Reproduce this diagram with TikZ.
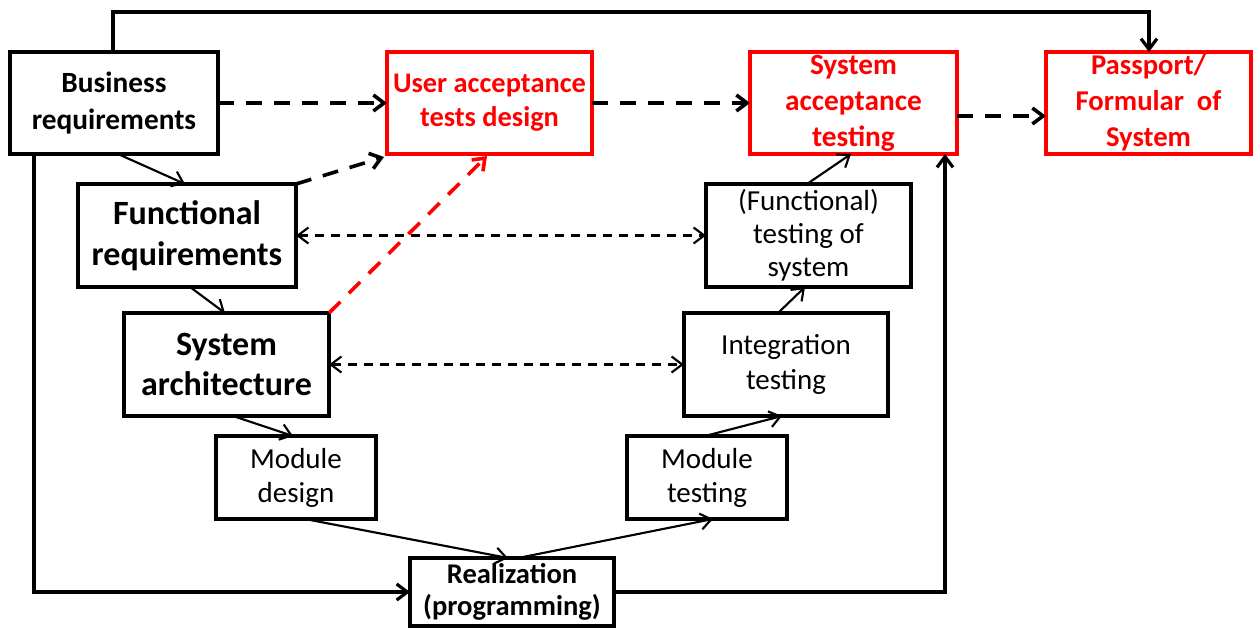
\documentclass[tikz,border=0pt]{standalone}
\usepackage{fontspec}
\setmainfont{Carlito}
\usetikzlibrary{arrows.meta,calc}

\begin{document}
\begin{tikzpicture}[x=0.75pt,y=-0.75pt,
  >={Straight Barb[length=8pt,width=12pt]},
  box/.style={draw=black, line width=2.4pt, align=center, inner sep=0pt, outer sep=0pt, text=black},
  redbox/.style={box, draw=red, text=red},
  wh/.style 2 args={minimum width=#1*0.75pt, minimum height=#2*0.75pt},
  fbig/.style={font=\fontsize{25.5}{30.5}\selectfont\bfseries},
  fbold/.style={font=\fontsize{22}{27.5}\selectfont\bfseries},
  freg/.style={font=\fontsize{21.75}{25.5}\selectfont},
  mainline/.style={line width=2.4pt},
  thinarrow/.style={line width=1.6pt, ->},
  dashthick/.style={line width=2.7pt, dash pattern=on 12pt off 9pt, ->},
  dashthin/.style={line width=1.6pt, dash pattern=on 7pt off 5pt, <->}]

\fill[white] (0,0) rectangle (1253,628);
\useasboundingbox (0,0) rectangle (1253,628);

% upper row
\node[box, fbold, wh={208}{102}] (bus) at (114,103) {Business\\requirements};
\node[redbox, font=\fontsize{21.3}{25.5}\selectfont\bfseries, wh={205}{102}] (uat) at (489.5,103) {User acceptance\\tests design};
\node[redbox, font=\fontsize{22}{27}\selectfont\bfseries, wh={207}{102}] (sat) at (853.5,103) {System\\acceptance\\testing};
\node[redbox, font=\fontsize{21.5}{27}\selectfont\bfseries, wh={205}{102}] (pass) at (1148.5,103) {Passport/\\Formular\ \ of\\System};

% left branch of the V
\node[box, fbig, wh={218}{103}] (fun) at (187,235.5) {Functional\\requirements};
\node[box, fbig, wh={205}{103}] (sa) at (226.5,364.5) {System\\architecture};
\node[box, freg, wh={160}{83}] (md) at (296,477.5) {Module\\design};

% bottom
\node[box, font=\fontsize{21.4}{24}\selectfont\bfseries, wh={204}{68}] (real) at (512,592) {Realization\\(programming)};

% right branch of the V
\node[box, freg, wh={160}{83}] (mt) at (707,477.5) {Module\\testing};
\node[box, font=\fontsize{21.75}{26}\selectfont, wh={204}{103}] (integ) at (786,364.5) {Integration\\testing};
\node[box, font=\fontsize{21.75}{24.75}\selectfont, wh={205}{103}] (ftest) at (808.5,235.5) {(Functional)\\testing of\\system};

% outer feedback lines
\draw[mainline, ->] ($(bus.north west)+(103,0)$) |- ($(pass.north west)+(103,-40)$) -- ($(pass.north west)+(103,0)$);
\draw[mainline, ->] ($(bus.south west)+(24,0)$) |- (real.west);
\draw[mainline, ->] (real.east) -| ($(sat.south west)+(195,0)$);

% descending and ascending steps
\draw[thinarrow] ($(bus.south west)+(108,0)$) -- ($(fun.north west)+(107,0)$);
\draw[thinarrow] ($(fun.south west)+(112,0)$) -- ($(sa.north west)+(101,0)$);
\draw[thinarrow] ($(sa.south west)+(109,0)$) -- ($(md.north west)+(77,0)$);
\draw[thinarrow] ($(md.south west)+(89,0)$) -- ($(real.north west)+(98,0)$);
\draw[thinarrow] ($(real.north west)+(108,0)$) -- ($(mt.south west)+(86,0)$);
\draw[thinarrow] ($(mt.north west)+(78,0)$) -- ($(integ.south west)+(98,0)$);
\draw[thinarrow] ($(integ.north west)+(94,0)$) -- ($(ftest.south west)+(99,0)$);
\draw[thinarrow] ($(ftest.north west)+(101,0)$) -- ($(sat.south west)+(101,0)$);

% acceptance flow
\draw[dashthick] (bus.east) -- (uat.west);
\draw[dashthick] (uat.east) -- (sat.west);
\draw[dashthick] ($(sat.east)+(0,13)$) -- ($(pass.west)+(0,13)$);
\draw[dashthick] (fun.north east) -- ($(uat.south west)+(-3,3)$);
\draw[dashthick, red] (sa.north east) -- ($(uat.south west)+(100,2)$);

% correspondence between levels
\draw[dashthin] (fun.east) -- (ftest.west);
\draw[dashthin] (sa.east) -- (integ.west);
\end{tikzpicture}
\end{document}
